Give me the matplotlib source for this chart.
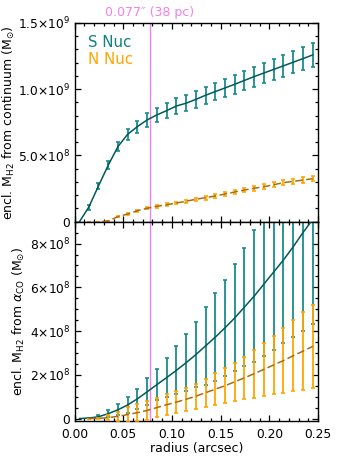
import numpy as np
import matplotlib
matplotlib.use("Agg")
import matplotlib.pyplot as plt
from matplotlib.ticker import FixedLocator, FixedFormatter, MultipleLocator

plt.rcParams['font.family'] = ['DejaVu Sans']
plt.rcParams['mathtext.fontset'] = 'dejavusans'

# ---------------- data ----------------
radius = [0.0145, 0.0245, 0.0345, 0.0445, 0.0545, 0.0645, 0.0745, 0.0845,
          0.0945, 0.1045, 0.1145, 0.1245, 0.1345, 0.1445, 0.1545, 0.1645,
          0.1745, 0.1845, 0.1945, 0.2045, 0.2145, 0.2245, 0.2345, 0.2445]

# top panel: enclosed mass from continuum
s_cont = [1.09e8, 2.69e8, 4.25e8, 5.66e8, 6.59e8, 7.17e8, 7.67e8, 8.05e8,
          8.37e8, 8.72e8, 8.93e8, 9.22e8, 9.53e8, 9.81e8, 1.008e9, 1.036e9,
          1.065e9, 1.094e9, 1.121e9, 1.148e9, 1.175e9, 1.202e9, 1.229e9, 1.257e9]
s_cont_err = [2.0e7, 2.5e7, 3.0e7, 3.5e7, 4.0e7, 4.5e7, 5.0e7, 5.3e7,
              5.6e7, 5.9e7, 6.1e7, 6.3e7, 6.5e7, 6.7e7, 6.9e7, 7.1e7,
              7.3e7, 7.5e7, 7.7e7, 7.9e7, 8.1e7, 8.3e7, 8.5e7, 8.8e7]
n_cont = [0.0, 0.0, 0.6e7, 3.8e7, 5.8e7, 8.3e7, 1.01e8, 1.16e8,
          1.28e8, 1.41e8, 1.54e8, 1.69e8, 1.81e8, 1.94e8, 2.09e8, 2.24e8,
          2.39e8, 2.52e8, 2.64e8, 2.79e8, 2.94e8, 3.04e8, 3.14e8, 3.24e8]
n_cont_err = [0.0, 0.0, 0.3e7, 0.5e7, 0.6e7, 0.7e7, 0.8e7, 0.9e7,
              1.0e7, 1.1e7, 1.2e7, 1.3e7, 1.4e7, 1.5e7, 1.5e7, 1.6e7,
              1.7e7, 1.7e7, 1.8e7, 1.8e7, 1.9e7, 1.9e7, 2.0e7, 2.0e7]

# bottom panel: enclosed mass from alpha_CO
s_aco = [0.02e8, 0.08e8, 0.22e8, 0.40e8, 0.62e8, 0.90e8, 1.22e8, 1.55e8,
         1.87e8, 2.20e8, 2.55e8, 2.92e8, 3.32e8, 3.72e8, 4.15e8, 4.60e8,
         5.10e8, 5.60e8, 6.15e8, 6.70e8, 7.25e8, 7.85e8, 8.50e8, 9.10e8]
s_aco_err = [0.02e8, 0.06e8, 0.16e8, 0.25e8, 0.36e8, 0.47e8, 0.62e8, 0.72e8,
             0.88e8, 1.10e8, 1.30e8, 1.50e8, 1.80e8, 2.00e8, 2.20e8, 2.45e8,
             2.70e8, 3.00e8, 3.30e8, 3.55e8, 3.80e8, 4.10e8, 4.50e8, 4.80e8]
n_aco = [0.0, 0.01e8, 0.04e8, 0.10e8, 0.18e8, 0.27e8, 0.37e8, 0.50e8,
         0.63e8, 0.75e8, 0.88e8, 1.02e8, 1.18e8, 1.34e8, 1.50e8, 1.68e8,
         1.86e8, 2.05e8, 2.25e8, 2.45e8, 2.65e8, 2.87e8, 3.08e8, 3.30e8]
n_aco_err = [0.0, 0.03e8, 0.10e8, 0.22e8, 0.33e8, 0.40e8, 0.42e8, 0.45e8,
             0.48e8, 0.50e8, 0.53e8, 0.57e8, 0.64e8, 0.72e8, 0.80e8, 0.88e8,
             0.97e8, 1.10e8, 1.22e8, 1.34e8, 1.48e8, 1.63e8, 1.78e8, 1.90e8]

marker_radius = 0.077
marker_label = "0.077\u2033 (38 pc)"

top_yticks = [0, 5e8, 1e9, 1.5e9]
top_yticklabels = ['0', r'5.0$\times$10$^{8}$', r'1.0$\times$10$^{9}$', r'1.5$\times$10$^{9}$']
bot_yticks = [0, 2e8, 4e8, 6e8, 8e8]
bot_yticklabels = ['0', r'2$\times$10$^{8}$', r'4$\times$10$^{8}$', r'6$\times$10$^{8}$', r'8$\times$10$^{8}$']
xticks = [0.00, 0.05, 0.10, 0.15, 0.20, 0.25]
xticklabels = ['0.00', '0.05', '0.10', '0.15', '0.20', '0.25']

# ---------------- style ----------------
TEAL_BAR = '#1a8c8c'
TEAL_LINE = '#005a5a'
ORANGE_BAR = '#ffa500'
ORANGE_LINE = '#a86c14'
VIOLET = '#ee82ee'
FS = 8.8

W, H = 340, 468
fig = plt.figure(figsize=(W / 100, H / 100), dpi=100)
left = 74.6 / W
width = (318 - 74.6) / W
ax1 = fig.add_axes([left, 1 - 221.7 / H, width, (221.7 - 22.7) / H])
ax2 = fig.add_axes([left, 1 - 420.7 / H, width, (420.7 - 221.7) / H])


def style(ax):
    ax.tick_params(which='both', direction='in', top=True, right=True,
                   width=0.9, labelsize=FS, pad=3)
    ax.tick_params(which='major', length=4.5)
    ax.tick_params(which='minor', length=2.2)
    for s in ax.spines.values():
        s.set_linewidth(1.0)
    ax.set_xlim(0, 0.25)
    ax.xaxis.set_major_locator(FixedLocator(xticks))
    ax.xaxis.set_minor_locator(MultipleLocator(0.01))


# top panel
style(ax1)
ax1.axvline(marker_radius, color=VIOLET, lw=1.0, zorder=1)
ax1.errorbar(radius, s_cont, yerr=s_cont_err, fmt='none', ecolor=TEAL_BAR,
             elinewidth=1.3, capsize=1.6, capthick=1.2, zorder=2)
ax1.plot([0.005] + radius, [0.0] + s_cont, color=TEAL_LINE, lw=1.1, zorder=3)
ax1.errorbar(radius, n_cont, yerr=n_cont_err, fmt='none', ecolor=ORANGE_BAR,
             elinewidth=1.3, capsize=1.6, capthick=1.2, zorder=2)
ax1.plot([0.028] + radius[2:], [0.0] + n_cont[2:], color=ORANGE_LINE, lw=1.1,
         dashes=(5, 2.2), zorder=3)
ax1.set_ylim(0, 1.5e9)
ax1.yaxis.set_major_locator(FixedLocator(top_yticks))
ax1.yaxis.set_major_formatter(FixedFormatter(top_yticklabels))
ax1.yaxis.set_minor_locator(MultipleLocator(1e8))
ax1.tick_params(labelbottom=False)
ax1.set_ylabel(r'encl. M$_{\rm H2}$ from continuum (M$_{\odot}$)', fontsize=9)
ax1.yaxis.set_label_coords(-0.238, 0.5)
ax1.text(0.055, 0.898, 'S Nuc', color='#108080', fontsize=10.8,
         transform=ax1.transAxes, va='center', ha='left')
ax1.text(0.055, 0.813, 'N Nuc', color=ORANGE_BAR, fontsize=10.8,
         transform=ax1.transAxes, va='center', ha='left')
ax1.text(marker_radius, 1.049, marker_label, color=VIOLET, fontsize=9,
         ha='center', va='center', transform=ax1.get_xaxis_transform())

# bottom panel
style(ax2)
ax2.axvline(marker_radius, color=VIOLET, lw=1.0, zorder=1)
ax2.errorbar(radius, s_aco, yerr=s_aco_err, fmt='none', ecolor=TEAL_BAR,
             elinewidth=1.3, capsize=1.6, capthick=1.2, zorder=2)
ax2.plot([0.005] + radius, [0.0] + s_aco, color=TEAL_LINE, lw=1.1, zorder=3)
ax2.errorbar(radius, n_aco, yerr=n_aco_err, fmt='none', ecolor=ORANGE_BAR,
             elinewidth=1.3, capsize=1.6, capthick=1.2, zorder=4)
ax2.plot(radius, n_aco, color=ORANGE_LINE, lw=1.1, dashes=(5, 2.2), zorder=5)
ax2.set_ylim(-1e7, 9e8)
ax2.yaxis.set_major_locator(FixedLocator(bot_yticks))
ax2.yaxis.set_major_formatter(FixedFormatter(bot_yticklabels))
ax2.yaxis.set_minor_locator(MultipleLocator(5e7))
ax2.xaxis.set_major_formatter(FixedFormatter(xticklabels))
ax2.set_ylabel(r'encl. M$_{\rm H2}$ from $\alpha_{\rm CO}$ (M$_{\odot}$)', fontsize=9)
ax2.yaxis.set_label_coords(-0.195, 0.5)
ax2.set_xlabel('radius (arcsec)', fontsize=9, labelpad=1)
ax2.tick_params(axis='x', pad=5)

fig.savefig('out.png', dpi=100)
